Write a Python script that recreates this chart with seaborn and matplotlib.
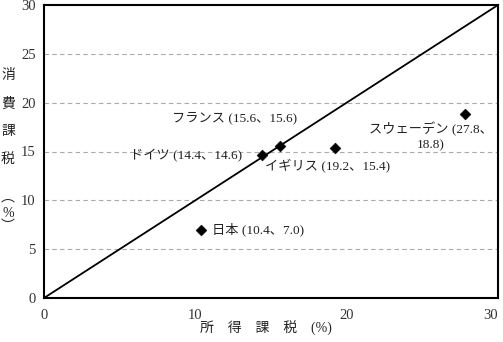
import matplotlib
matplotlib.use("Agg")
import matplotlib.pyplot as plt
import seaborn as sns
import pandas as pd

countries = ["日本", "ドイツ", "フランス", "イギリス", "スウェーデン"]
income_tax = [10.4, 14.4, 15.6, 19.2, 27.8]
consumption_tax = [7.0, 14.6, 15.6, 15.4, 18.8]
point_labels = ["日本 (10.4、7.0)", "ドイツ (14.4、14.6)", "フランス (15.6、15.6)",
                "イギリス (19.2、15.4)", "スウェーデン (27.8、\n18.8)"]
ticks = [0, 10, 20, 30]
yticks = [0, 5, 10, 15, 20, 25, 30]
xlabel = "所　得　課　税　(%)"
ylabel_chars = ["消", "費", "課", "税", "︵", "%", "︶"]

sns.set_theme(style="white")
plt.rcParams["font.family"] = ["Liberation Serif", "Noto Sans CJK JP", "DejaVu Sans"]

df = pd.DataFrame({"country": countries, "x": income_tax, "y": consumption_tax})

fig = plt.figure(figsize=(5.03, 3.42), dpi=100)
ax = fig.add_axes([44/503, 1 - 298/342, (498-44)/503, (298-5)/342])

sns.lineplot(x=[0, 30], y=[0, 30], ax=ax, color="black", linewidth=1.3)
sns.scatterplot(data=df, x="x", y="y", ax=ax, marker="D", color="black", s=30,
                edgecolor="black", zorder=5)

ax.set_xlim(0, 30)
ax.set_ylim(0, 30)
ax.set_xticks(ticks)
ax.set_yticks(yticks)
for v in yticks[1:-1]:
    ax.axhline(v, color="#aaaaaa", linestyle=(0, (4, 3)), linewidth=0.8, zorder=0)
for s in ax.spines.values():
    s.set_color("black")
    s.set_linewidth(1.5)
ax.tick_params(axis="both", length=0, labelsize=10.5, colors="#333333", pad=6)
ax.tick_params(axis="x", pad=8)
xtl = ax.get_xticklabels()
xtl[-1].set_ha("right")
ax.set_xlabel("")
ax.set_ylabel("")

fs = 9.5
tc = "#222222"
offs = [(8, 0, "left", "center"),
        (-14, 0, "right", "center"),
        (12, 20, "right", "center"),
        (40, -13, "right", "center"),
        (20, -16, "right", "center")]
for xv, yv, lab, (dx, dy, ha, va) in zip(income_tax, consumption_tax, point_labels, offs):
    ax.annotate(lab, (xv, yv), xytext=(dx, dy), textcoords="offset points",
                ha=ha, va=va, fontsize=fs, color=tc,
                multialignment="center" if "\n" in lab else "left",
                linespacing=1.25)

fig.text(266/503, 1 - 328/342, xlabel, ha="center", va="center", fontsize=10, color=tc)
ypos = [76, 104, 132, 160, 198, 213, 226]
for ch, yp in zip(ylabel_chars, ypos):
    fig.text(8/503, 1 - yp/342, ch, ha="center", va="center", fontsize=10, color=tc)

fig.savefig("out.png", dpi=100)
